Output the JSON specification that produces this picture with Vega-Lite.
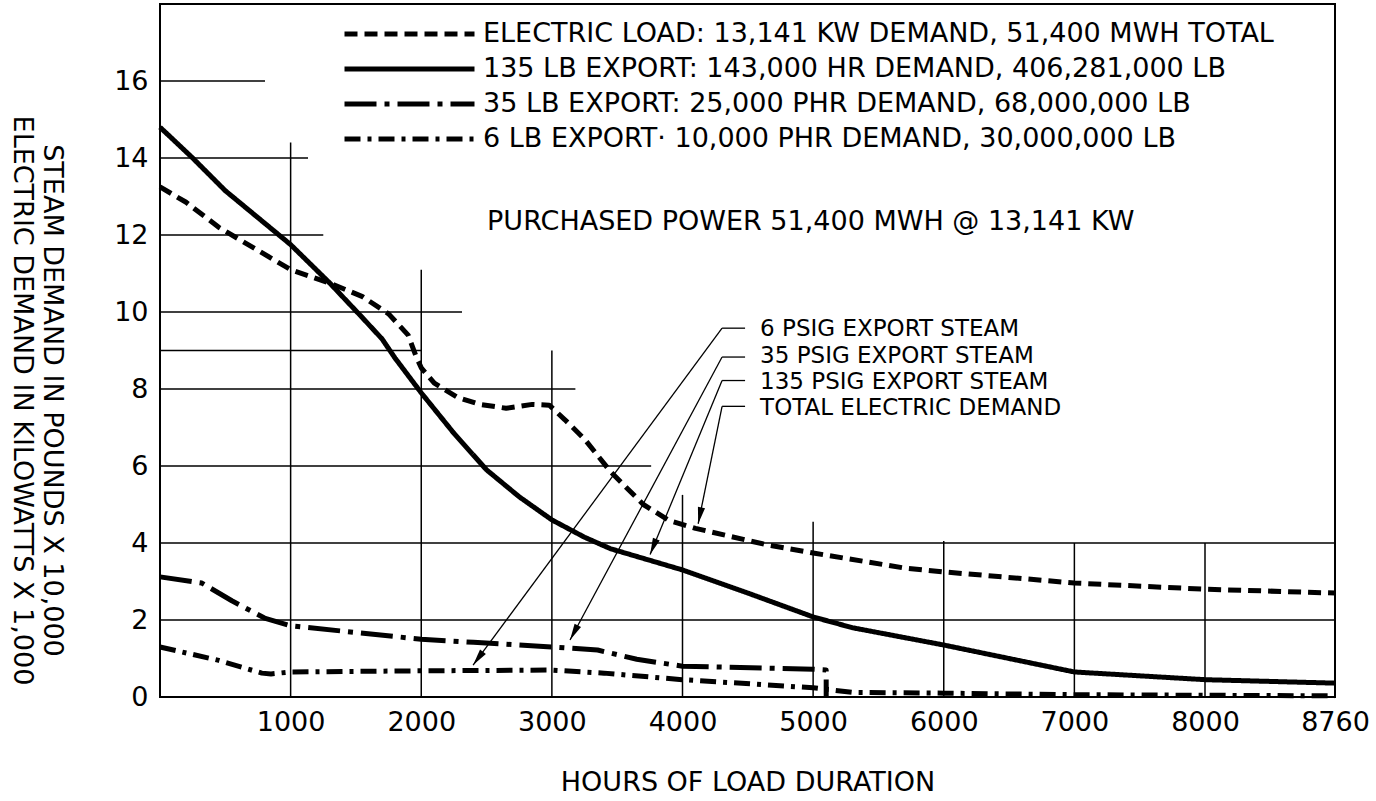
{
  "$schema": "https://vega.github.io/schema/vega-lite/v6.json",
  "width": 1175,
  "height": 693,
  "autosize": {"type": "none"},
  "padding": {"left": 160, "top": 4, "right": 41, "bottom": 104},
  "background": "white",
  "config": {
    "view": {"stroke": "black", "strokeWidth": 2},
    "font": "DejaVu Sans",
    "text": {"font": "DejaVu Sans", "fontSize": 27, "color": "black"},
    "axis": {"labelFont": "DejaVu Sans", "titleFont": "DejaVu Sans", "labelColor": "black", "titleColor": "black", "titleFontWeight": "normal"}
  },
  "datasets": {
    "curves": [
      {"series": "ELECTRIC LOAD:  13,141 KW DEMAND, 51,400 MWH TOTAL", "hours": 0, "value": 13.25},
      {"series": "ELECTRIC LOAD:  13,141 KW DEMAND, 51,400 MWH TOTAL", "hours": 200, "value": 12.85},
      {"series": "ELECTRIC LOAD:  13,141 KW DEMAND, 51,400 MWH TOTAL", "hours": 450, "value": 12.2},
      {"series": "ELECTRIC LOAD:  13,141 KW DEMAND, 51,400 MWH TOTAL", "hours": 1000, "value": 11.1},
      {"series": "ELECTRIC LOAD:  13,141 KW DEMAND, 51,400 MWH TOTAL", "hours": 1300, "value": 10.75},
      {"series": "ELECTRIC LOAD:  13,141 KW DEMAND, 51,400 MWH TOTAL", "hours": 1550, "value": 10.4},
      {"series": "ELECTRIC LOAD:  13,141 KW DEMAND, 51,400 MWH TOTAL", "hours": 1750, "value": 9.95},
      {"series": "ELECTRIC LOAD:  13,141 KW DEMAND, 51,400 MWH TOTAL", "hours": 1900, "value": 9.4},
      {"series": "ELECTRIC LOAD:  13,141 KW DEMAND, 51,400 MWH TOTAL", "hours": 1960, "value": 8.85},
      {"series": "ELECTRIC LOAD:  13,141 KW DEMAND, 51,400 MWH TOTAL", "hours": 2000, "value": 8.55},
      {"series": "ELECTRIC LOAD:  13,141 KW DEMAND, 51,400 MWH TOTAL", "hours": 2100, "value": 8.15},
      {"series": "ELECTRIC LOAD:  13,141 KW DEMAND, 51,400 MWH TOTAL", "hours": 2280, "value": 7.78},
      {"series": "ELECTRIC LOAD:  13,141 KW DEMAND, 51,400 MWH TOTAL", "hours": 2450, "value": 7.6},
      {"series": "ELECTRIC LOAD:  13,141 KW DEMAND, 51,400 MWH TOTAL", "hours": 2650, "value": 7.5},
      {"series": "ELECTRIC LOAD:  13,141 KW DEMAND, 51,400 MWH TOTAL", "hours": 2850, "value": 7.6},
      {"series": "ELECTRIC LOAD:  13,141 KW DEMAND, 51,400 MWH TOTAL", "hours": 2980, "value": 7.58},
      {"series": "ELECTRIC LOAD:  13,141 KW DEMAND, 51,400 MWH TOTAL", "hours": 3100, "value": 7.2},
      {"series": "ELECTRIC LOAD:  13,141 KW DEMAND, 51,400 MWH TOTAL", "hours": 3250, "value": 6.7},
      {"series": "ELECTRIC LOAD:  13,141 KW DEMAND, 51,400 MWH TOTAL", "hours": 3450, "value": 5.85},
      {"series": "ELECTRIC LOAD:  13,141 KW DEMAND, 51,400 MWH TOTAL", "hours": 3700, "value": 5.0},
      {"series": "ELECTRIC LOAD:  13,141 KW DEMAND, 51,400 MWH TOTAL", "hours": 3900, "value": 4.58},
      {"series": "ELECTRIC LOAD:  13,141 KW DEMAND, 51,400 MWH TOTAL", "hours": 4100, "value": 4.38},
      {"series": "ELECTRIC LOAD:  13,141 KW DEMAND, 51,400 MWH TOTAL", "hours": 4650, "value": 3.95},
      {"series": "ELECTRIC LOAD:  13,141 KW DEMAND, 51,400 MWH TOTAL", "hours": 5000, "value": 3.74},
      {"series": "ELECTRIC LOAD:  13,141 KW DEMAND, 51,400 MWH TOTAL", "hours": 5700, "value": 3.35},
      {"series": "ELECTRIC LOAD:  13,141 KW DEMAND, 51,400 MWH TOTAL", "hours": 6000, "value": 3.25},
      {"series": "ELECTRIC LOAD:  13,141 KW DEMAND, 51,400 MWH TOTAL", "hours": 7000, "value": 2.96},
      {"series": "ELECTRIC LOAD:  13,141 KW DEMAND, 51,400 MWH TOTAL", "hours": 8000, "value": 2.8},
      {"series": "ELECTRIC LOAD:  13,141 KW DEMAND, 51,400 MWH TOTAL", "hours": 8760, "value": 2.7},
      {"series": "135 LB EXPORT: 143,000 HR DEMAND, 406,281,000 LB", "hours": 0, "value": 14.8},
      {"series": "135 LB EXPORT: 143,000 HR DEMAND, 406,281,000 LB", "hours": 250, "value": 14.0},
      {"series": "135 LB EXPORT: 143,000 HR DEMAND, 406,281,000 LB", "hours": 500, "value": 13.15},
      {"series": "135 LB EXPORT: 143,000 HR DEMAND, 406,281,000 LB", "hours": 1000, "value": 11.75},
      {"series": "135 LB EXPORT: 143,000 HR DEMAND, 406,281,000 LB", "hours": 1300, "value": 10.75},
      {"series": "135 LB EXPORT: 143,000 HR DEMAND, 406,281,000 LB", "hours": 1550, "value": 9.85},
      {"series": "135 LB EXPORT: 143,000 HR DEMAND, 406,281,000 LB", "hours": 1700, "value": 9.3},
      {"series": "135 LB EXPORT: 143,000 HR DEMAND, 406,281,000 LB", "hours": 1800, "value": 8.8},
      {"series": "135 LB EXPORT: 143,000 HR DEMAND, 406,281,000 LB", "hours": 2000, "value": 7.9},
      {"series": "135 LB EXPORT: 143,000 HR DEMAND, 406,281,000 LB", "hours": 2250, "value": 6.85},
      {"series": "135 LB EXPORT: 143,000 HR DEMAND, 406,281,000 LB", "hours": 2500, "value": 5.9},
      {"series": "135 LB EXPORT: 143,000 HR DEMAND, 406,281,000 LB", "hours": 2750, "value": 5.2},
      {"series": "135 LB EXPORT: 143,000 HR DEMAND, 406,281,000 LB", "hours": 3000, "value": 4.6},
      {"series": "135 LB EXPORT: 143,000 HR DEMAND, 406,281,000 LB", "hours": 3250, "value": 4.15},
      {"series": "135 LB EXPORT: 143,000 HR DEMAND, 406,281,000 LB", "hours": 3450, "value": 3.85},
      {"series": "135 LB EXPORT: 143,000 HR DEMAND, 406,281,000 LB", "hours": 4000, "value": 3.3},
      {"series": "135 LB EXPORT: 143,000 HR DEMAND, 406,281,000 LB", "hours": 4500, "value": 2.7},
      {"series": "135 LB EXPORT: 143,000 HR DEMAND, 406,281,000 LB", "hours": 5000, "value": 2.08},
      {"series": "135 LB EXPORT: 143,000 HR DEMAND, 406,281,000 LB", "hours": 5300, "value": 1.8},
      {"series": "135 LB EXPORT: 143,000 HR DEMAND, 406,281,000 LB", "hours": 6000, "value": 1.35},
      {"series": "135 LB EXPORT: 143,000 HR DEMAND, 406,281,000 LB", "hours": 7000, "value": 0.65},
      {"series": "135 LB EXPORT: 143,000 HR DEMAND, 406,281,000 LB", "hours": 8000, "value": 0.45},
      {"series": "135 LB EXPORT: 143,000 HR DEMAND, 406,281,000 LB", "hours": 8760, "value": 0.36},
      {"series": "35 LB EXPORT:  25,000 PHR DEMAND, 68,000,000 LB", "hours": 0, "value": 3.12},
      {"series": "35 LB EXPORT:  25,000 PHR DEMAND, 68,000,000 LB", "hours": 320, "value": 2.96},
      {"series": "35 LB EXPORT:  25,000 PHR DEMAND, 68,000,000 LB", "hours": 550, "value": 2.5},
      {"series": "35 LB EXPORT:  25,000 PHR DEMAND, 68,000,000 LB", "hours": 800, "value": 2.05},
      {"series": "35 LB EXPORT:  25,000 PHR DEMAND, 68,000,000 LB", "hours": 1000, "value": 1.85},
      {"series": "35 LB EXPORT:  25,000 PHR DEMAND, 68,000,000 LB", "hours": 2000, "value": 1.5},
      {"series": "35 LB EXPORT:  25,000 PHR DEMAND, 68,000,000 LB", "hours": 2400, "value": 1.42},
      {"series": "35 LB EXPORT:  25,000 PHR DEMAND, 68,000,000 LB", "hours": 3000, "value": 1.3},
      {"series": "35 LB EXPORT:  25,000 PHR DEMAND, 68,000,000 LB", "hours": 3350, "value": 1.22},
      {"series": "35 LB EXPORT:  25,000 PHR DEMAND, 68,000,000 LB", "hours": 3650, "value": 0.98},
      {"series": "35 LB EXPORT:  25,000 PHR DEMAND, 68,000,000 LB", "hours": 4000, "value": 0.8},
      {"series": "35 LB EXPORT:  25,000 PHR DEMAND, 68,000,000 LB", "hours": 5000, "value": 0.72},
      {"series": "35 LB EXPORT:  25,000 PHR DEMAND, 68,000,000 LB", "hours": 5100, "value": 0.7},
      {"series": "35 LB EXPORT:  25,000 PHR DEMAND, 68,000,000 LB", "hours": 5100, "value": 0},
      {"series": "6 LB EXPORT· 10,000 PHR DEMAND, 30,000,000 LB", "hours": 0, "value": 1.3},
      {"series": "6 LB EXPORT· 10,000 PHR DEMAND, 30,000,000 LB", "hours": 450, "value": 0.95},
      {"series": "6 LB EXPORT· 10,000 PHR DEMAND, 30,000,000 LB", "hours": 780, "value": 0.62},
      {"series": "6 LB EXPORT· 10,000 PHR DEMAND, 30,000,000 LB", "hours": 850, "value": 0.6},
      {"series": "6 LB EXPORT· 10,000 PHR DEMAND, 30,000,000 LB", "hours": 1000, "value": 0.65},
      {"series": "6 LB EXPORT· 10,000 PHR DEMAND, 30,000,000 LB", "hours": 2000, "value": 0.68},
      {"series": "6 LB EXPORT· 10,000 PHR DEMAND, 30,000,000 LB", "hours": 3000, "value": 0.7},
      {"series": "6 LB EXPORT· 10,000 PHR DEMAND, 30,000,000 LB", "hours": 3400, "value": 0.62},
      {"series": "6 LB EXPORT· 10,000 PHR DEMAND, 30,000,000 LB", "hours": 4000, "value": 0.45},
      {"series": "6 LB EXPORT· 10,000 PHR DEMAND, 30,000,000 LB", "hours": 5000, "value": 0.24},
      {"series": "6 LB EXPORT· 10,000 PHR DEMAND, 30,000,000 LB", "hours": 5100, "value": 0.2},
      {"series": "6 LB EXPORT· 10,000 PHR DEMAND, 30,000,000 LB", "hours": 5300, "value": 0.12},
      {"series": "6 LB EXPORT· 10,000 PHR DEMAND, 30,000,000 LB", "hours": 6000, "value": 0.1},
      {"series": "6 LB EXPORT· 10,000 PHR DEMAND, 30,000,000 LB", "hours": 7000, "value": 0.06},
      {"series": "6 LB EXPORT· 10,000 PHR DEMAND, 30,000,000 LB", "hours": 8760, "value": 0.03}
    ],
    "hgrid": [
      {"y": 16, "x0": 0, "x1": 804}, {"y": 14, "x0": 0, "x1": 1133}, {"y": 12, "x0": 0, "x1": 1250},
      {"y": 10, "x0": 0, "x1": 2312}, {"y": 9, "x0": 0, "x1": 2000}, {"y": 8, "x0": 0, "x1": 3180},
      {"y": 6, "x0": 0, "x1": 3760}, {"y": 4, "x0": 0, "x1": 8760}, {"y": 2, "x0": 0, "x1": 8760}
    ],
    "vgrid": [
      {"x": 1000, "y0": 0, "y1": 14.4}, {"x": 2000, "y0": 0, "y1": 11.1}, {"x": 3000, "y0": 0, "y1": 9.0},
      {"x": 4000, "y0": 0, "y1": 5.25}, {"x": 5000, "y0": 0, "y1": 4.55}, {"x": 6000, "y0": 0, "y1": 4.05},
      {"x": 7000, "y0": 0, "y1": 4.0}, {"x": 8000, "y0": 0, "y1": 4.0}
    ],
    "callouts": [
      {"label": "6 PSIG EXPORT STEAM", "lx": 4303, "hx": 4479, "textx": 4594, "ly": 9.58, "texty": 9.56, "tx": 2397, "ty": 0.83},
      {"label": "35 PSIG EXPORT STEAM", "lx": 4303, "hx": 4479, "textx": 4594, "ly": 8.83, "texty": 8.86, "tx": 3139, "ty": 1.48},
      {"label": "135 PSIG EXPORT STEAM", "lx": 4303, "hx": 4479, "textx": 4594, "ly": 8.22, "texty": 8.18, "tx": 3752, "ty": 3.7},
      {"label": "TOTAL ELECTRIC DEMAND", "lx": 4303, "hx": 4479, "textx": 4594, "ly": 7.55, "texty": 7.5, "tx": 4120, "ty": 4.5}
    ],
    "notes": [
      {"note": "PURCHASED POWER 51,400 MWH @ 13,141 KW", "x": 2504, "y": 12.34}
    ]
  },
  "layer": [
    {
      "data": {"name": "hgrid"},
      "mark": {"type": "rule", "stroke": "black", "strokeWidth": 1.5},
      "encoding": {
        "x": {"field": "x0", "type": "quantitative",
          "scale": {"domain": [0, 8000, 8760], "range": [0, 1045, 1175], "nice": false, "zero": false},
          "axis": {"values": [1000, 2000, 3000, 4000, 5000, 6000, 7000, 8000, 8760], "format": "d", "domain": false, "ticks": false, "grid": false,
            "labelFontSize": 27, "labelPadding": 12, "labelFlush": false, "labelOverlap": false, "labelBound": false,
            "title": "HOURS OF LOAD DURATION", "titleFontSize": 27, "titlePadding": 34}},
        "x2": {"field": "x1"},
        "y": {"field": "y", "type": "quantitative",
          "scale": {"domain": [0, 18], "nice": false},
          "axis": {"values": [0, 2, 4, 6, 8, 10, 12, 14, 16], "domain": false, "ticks": false, "grid": false,
            "labelFontSize": 27, "labelPadding": 12, "labelFlush": false,
            "title": ["STEAM DEMAND IN POUNDS X 10,000", "ELECTRIC DEMAND IN KILOWATTS X 1,000"],
            "titleFontSize": 27, "titleAngle": 90, "titleX": -109, "titleY": 396, "titleAlign": "center", "titleBaseline": "middle", "titleLineHeight": 30}}
      }
    },
    {
      "data": {"name": "vgrid"},
      "mark": {"type": "rule", "stroke": "black", "strokeWidth": 1.5},
      "encoding": {
        "x": {"field": "x", "type": "quantitative"},
        "y": {"field": "y0", "type": "quantitative"},
        "y2": {"field": "y1"}
      }
    },
    {
      "data": {"name": "curves"},
      "mark": {"type": "line", "stroke": "black", "strokeWidth": 5, "strokeCap": "butt", "strokeJoin": "round"},
      "encoding": {
        "x": {"field": "hours", "type": "quantitative"},
        "y": {"field": "value", "type": "quantitative"},
        "strokeDash": {"field": "series", "type": "nominal",
          "scale": {
            "domain": ["ELECTRIC LOAD:  13,141 KW DEMAND, 51,400 MWH TOTAL", "135 LB EXPORT: 143,000 HR DEMAND, 406,281,000 LB", "35 LB EXPORT:  25,000 PHR DEMAND, 68,000,000 LB", "6 LB EXPORT· 10,000 PHR DEMAND, 30,000,000 LB"],
            "range": [[13, 7], [1, 0], [32, 8, 5, 8], [16, 7, 4, 7]]
          },
          "legend": {"orient": "none", "legendX": 182, "legendY": 17, "title": null, "symbolType": "stroke", "symbolSize": 16900,
            "symbolStrokeWidth": 5, "symbolStrokeColor": "black", "labelFontSize": 27, "labelFont": "DejaVu Sans", "labelColor": "black",
            "labelLimit": 0, "labelOffset": 6, "rowPadding": 8, "padding": 0, "clipHeight": 26}
        }
      }
    },
    {
      "data": {"name": "callouts"},
      "mark": {"type": "rule", "stroke": "black", "strokeWidth": 1.3},
      "encoding": {
        "x": {"field": "lx", "type": "quantitative"},
        "x2": {"field": "hx"},
        "y": {"field": "ly", "type": "quantitative"}
      }
    },
    {
      "data": {"name": "callouts"},
      "mark": {"type": "rule", "stroke": "black", "strokeWidth": 1.3},
      "encoding": {
        "x": {"field": "lx", "type": "quantitative"},
        "y": {"field": "ly", "type": "quantitative"},
        "x2": {"field": "tx"},
        "y2": {"field": "ty"}
      }
    },
    {
      "data": {"name": "callouts"},
      "transform": [{"filter": "datum.label === '6 PSIG EXPORT STEAM'"}],
      "mark": {"type": "point", "shape": "M0,0L-0.22,-1L0.22,-1Z", "filled": true, "color": "black", "opacity": 1, "size": 1100, "angle": 36.5},
      "encoding": {"x": {"field": "tx", "type": "quantitative"}, "y": {"field": "ty", "type": "quantitative"}}
    },
    {
      "data": {"name": "callouts"},
      "transform": [{"filter": "datum.label === '35 PSIG EXPORT STEAM'"}],
      "mark": {"type": "point", "shape": "M0,0L-0.22,-1L0.22,-1Z", "filled": true, "color": "black", "opacity": 1, "size": 1100, "angle": 28},
      "encoding": {"x": {"field": "tx", "type": "quantitative"}, "y": {"field": "ty", "type": "quantitative"}}
    },
    {
      "data": {"name": "callouts"},
      "transform": [{"filter": "datum.label === '135 PSIG EXPORT STEAM'"}],
      "mark": {"type": "point", "shape": "M0,0L-0.22,-1L0.22,-1Z", "filled": true, "color": "black", "opacity": 1, "size": 1100, "angle": 22},
      "encoding": {"x": {"field": "tx", "type": "quantitative"}, "y": {"field": "ty", "type": "quantitative"}}
    },
    {
      "data": {"name": "callouts"},
      "transform": [{"filter": "datum.label === 'TOTAL ELECTRIC DEMAND'"}],
      "mark": {"type": "point", "shape": "M0,0L-0.22,-1L0.22,-1Z", "filled": true, "color": "black", "opacity": 1, "size": 1100, "angle": 11.5},
      "encoding": {"x": {"field": "tx", "type": "quantitative"}, "y": {"field": "ty", "type": "quantitative"}}
    },
    {
      "data": {"name": "callouts"},
      "mark": {"type": "text", "align": "left", "baseline": "middle", "fontSize": 23},
      "encoding": {
        "x": {"field": "textx", "type": "quantitative"},
        "y": {"field": "texty", "type": "quantitative"},
        "text": {"field": "label", "type": "nominal"}
      }
    },
    {
      "data": {"name": "notes"},
      "mark": {"type": "text", "align": "left", "baseline": "middle", "fontSize": 27},
      "encoding": {
        "x": {"field": "x", "type": "quantitative"},
        "y": {"field": "y", "type": "quantitative"},
        "text": {"field": "note", "type": "nominal"}
      }
    }
  ]
}
